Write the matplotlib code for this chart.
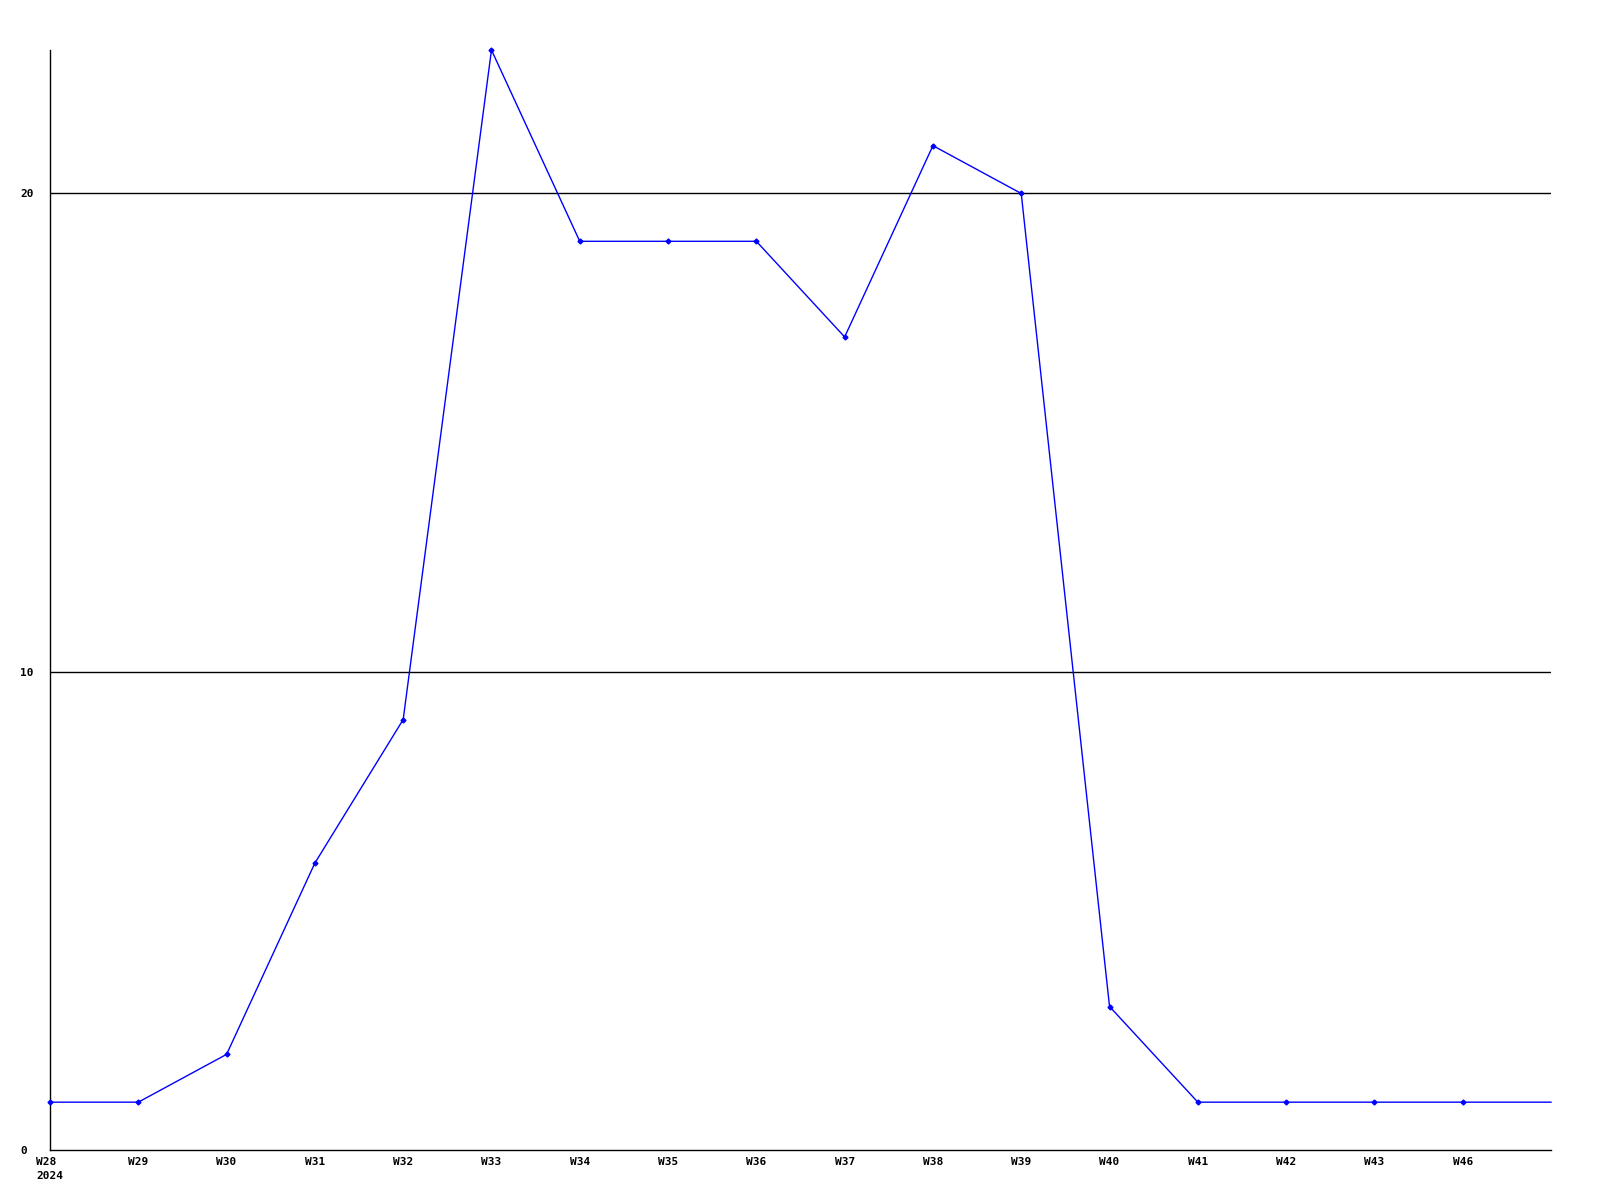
import matplotlib.pyplot as plt

weeks = ["W28\n2024", "W29", "W30", "W31", "W32", "W33", "W34", "W35", "W36",
         "W37", "W38", "W39", "W40", "W41", "W42", "W43", "W46", ""]
values = [1, 1, 2, 6, 9, 23, 19, 19, 19, 17, 21, 20, 3, 1, 1, 1, 1, 1]

plt.rcParams["font.family"] = "DejaVu Sans Mono"

fig = plt.figure(figsize=(16, 12), dpi=100)
ax = fig.add_axes([50 / 1600, 1 - 1150 / 1200, 1501 / 1600, 1100 / 1200])

x = list(range(len(values)))
# last point sits on the right edge and has no marker
ax.plot(x, values, color="#0000ff", linewidth=1, marker="D", markersize=2.5,
        markevery=list(range(len(values) - 1)), zorder=3, clip_on=False)

for y in (10, 20):
    ax.axhline(y, color="black", linewidth=1, zorder=1)

ax.set_xlim(0, len(values) - 1)
ax.set_ylim(0, 23)
ax.set_xticks(x)
ax.set_xticklabels(weeks, fontsize=8, fontweight="bold", multialignment="left", linespacing=1.5)
ax.set_yticks([0, 10, 20])
ax.set_yticklabels(["0", "10", "20"], fontsize=8, fontweight="bold")
ax.tick_params(axis="both", length=0)
ax.tick_params(axis="y", pad=21.5)
ax.tick_params(axis="x", pad=5)
for lbl in ax.get_yticklabels():
    lbl.set_horizontalalignment("left")

ax.spines["top"].set_visible(False)
ax.spines["right"].set_visible(False)
for s in ("left", "bottom"):
    ax.spines[s].set_linewidth(1)
    ax.spines[s].set_color("black")

fig.savefig("out.png", dpi=100)
plt.close(fig)
